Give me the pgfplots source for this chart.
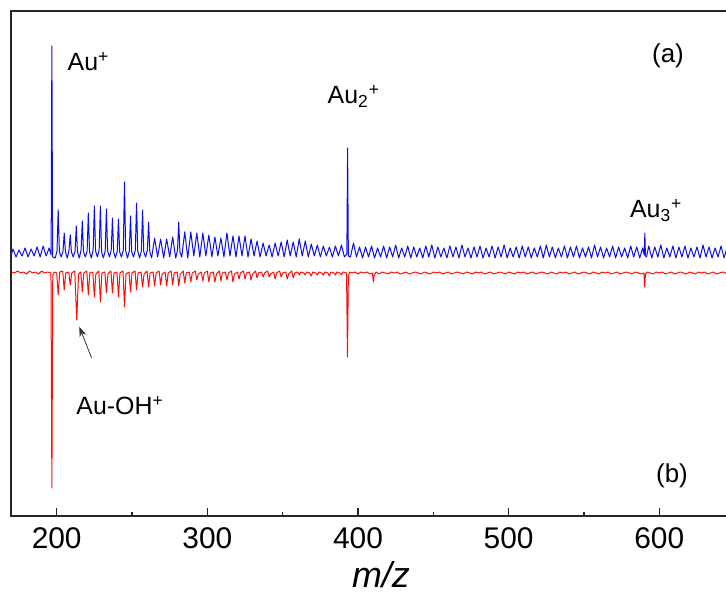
\documentclass[border=0pt]{standalone}
\usepackage{fontspec}
\setmainfont{Liberation Sans}
\usepackage{pgfplots}
\pgfplotsset{compat=1.18}
\usetikzlibrary{arrows.meta}

\definecolor{specblue}{rgb}{0.05,0.05,0.95}
\definecolor{specred}{rgb}{1,0.05,0.05}
\definecolor{axisgray}{rgb}{0.15,0.15,0.15}

\begin{document}
\begin{tikzpicture}
\useasboundingbox (0,0) rectangle (363bp,297bp);
\begin{axis}[
    at={(5.5bp,39bp)}, anchor=south west,
    scale only axis,
    width=359.5bp, height=252.5bp,
    xmin=169.67, xmax=646.93,
    ymin=0, ymax=505,
    axis line style={axisgray, line width=0.8bp},
    xtick={200,300,400,500,600},
    minor xtick={250,350,450,550},
    ytick=\empty,
    tick pos=left,
    tick align=inside,
    major tick length=4bp,
    minor tick length=2bp,
    every tick/.style={axisgray, line width=0.8bp},
    /pgf/number format/assume math mode=true,
    xticklabel style={font=\fontsize{15}{18}\selectfont, yshift=-2.5bp},
    xlabel={\fontsize{18}{21}\selectfont\itshape m/z},
    xlabel style={at={(axis description cs:0.5146,0)}, anchor=base, yshift=-35.5bp},
]
% (a) spectrum, blue
\addplot[specblue, line width=0.5bp, line join=round] coordinates {
(170,262)(171,267)(173,259)(175,266)(177,260)(179,268)(181,259)(183,267)(185,260)(187,269)(189,259)(191,270)(193,260)(195,268)(196.3,261)(196.8,470)(197.3,259)(199,258)
(200.2,265)(201,306)(201.8,264)(203,259)(204.2,265)(205,283)(205.8,264)(207,258)(208.2,266)(209,281)(209.8,264)(211,259)(212.2,265)(213,290)(213.8,264)(215,258)(216.2,266)(217,295)(217.8,264)(219,259)(220.2,265)(221,303)(221.8,264)(223,258)(224.2,266)(225,310)(225.8,265)(227,259)(228.2,266)(229,310)(229.8,264)(231,258)(232.2,265)(233,307)(233.8,265)(235,259)(236.2,266)(237,298)(237.8,264)(239,258)(240.2,265)(241,297)(241.8,264)(243,259)(244.2,266)(245,334)(245.8,265)(247,258)(248.2,265)(249,300)(249.8,264)(251,259)(252.2,266)(253,313)(253.8,265)(255,258)(256.2,265)(257,306)(257.8,264)(259,259)(260.2,266)(261,294)(261.8,264)(263,258)(265,278)(267,259)(269,277)(271,258)(273,277)(275,259)(277,279)(279,258)(280.2,266)(281,294)(281.8,264)(283,259)
(285,284)(287,258)(289,284)(291,260)(293,283)(295,259)(297,283)(299,260)(301,281)(303,259)(305,279)(307,260)(309,278)(311,259)(313,283)(315,260)(317,280)(319,259)(321,280)(323,260)(325,280)(327,259)(329,277)(331,260)(333,275)(335,259)(337,273)(339,260)(341,271)(343,259)(345,273)(347,260)(349,274)(351,259)(353,276)(355,260)(357,274)(359,259)(361,277)(363,260)(365,275)(367,259)(369,272)(371,260)(373,271)(375,259)(377,270)(379,260)(381,269)(383,259)(385,270)(387,260)(389,271)(391,259)(392.6,262)(393.1,368)(393.6,260)(395,259)(397,273)(399,259)(401,269)(403,258)
(405,269)(407,259)(409,270)(411,258)(413,268)(415,259)(417,270)(419,258)(421,269)(423,259)(425,271)(427,258)(429,268)(431,259)(433,270)(435,258)(437,269)(439,259)(441,268)(443,258)(445,270)(447,259)(449,271)(451,258)(453,269)(455,259)(457,268)(459,258)(461,270)(463,259)(465,269)(467,258)(469,271)(471,259)(473,268)(475,258)(477,269)(479,259)(481,270)(483,258)(485,268)(487,259)(489,270)(491,258)(493,269)(495,259)(497,271)(499,258)(501,268)(503,259)(505,269)(507,258)(509,270)(511,259)(513,269)(515,258)(517,268)(519,259)(521,270)(523,258)(525,271)(527,259)(529,269)(531,258)(533,268)(535,259)(537,270)(539,258)(541,269)(543,259)(545,270)(547,258)(549,268)(551,259)(553,269)(555,258)(557,271)(559,259)(561,269)(563,258)(565,268)(567,259)(569,270)(571,258)(573,269)(575,259)(577,268)(579,258)(581,270)(583,259)(585,269)(587,258)(589,268)(590,261)(590.4,283)(590.8,260)(591.5,259)(593,270)(595,258)(597,269)(599,259)(601,271)(603,258)(605,268)(607,259)(609,270)(611,258)(613,269)(615,259)(617,270)(619,258)(621,268)(623,259)(625,269)(627,258)(629,271)(631,259)(633,269)(635,258)(637,268)(639,259)(641,270)(643,258)(645,269)(647,259)
};
% (b) spectrum, red, plotted downwards
\addplot[specred, line width=0.5bp, line join=round] coordinates {
(170,244)(172,243)(174,245)(176,243)(178,244)(180,242)(182,245)(184,243)(186,244)(188,242)(190,245)(192,243)(194,244)(196.2,243)(196.8,28)(197.4,241)(198.5,244)
(200,243)(201,221)(202,244)(204,245)(205,226)(206,243)(208,244)(209,231)(210,243)(212,245)(213.3,196)(214.5,242)(216,244)(217,224)(218,243)(220,245)(221,221)(222,243)(224,244)(225,219)(226,242)(228,245)(229,214)(230,243)(232,244)(233,223)(234,242)(236,245)(237,223)(238,243)(240,244)(241,219)(242,243)(244,245)(245,209)(246,242)(248,244)(249,224)(250,243)(252,245)(253,226)(254,243)(256,244)(257,229)(258,242)(260,245)(261,229)(262,243)(264,244)(265,230)(266,243)(268,245)(269,231)(270,242)(272,244)(273,230)(274,243)(276,245)(277,231)(278,243)(280,244)(281,230)(282,242)
(284,245)(285,233)(286,243)(288,244)(289,234)(290,243)(292,245)(293,236)(294,242)(296,244)(297,235)(298,243)(300,245)(301,234)(302,243)(304,244)(305,234)(306,242)(308,245)(309,235)(310,243)(312,244)(313,236)(314,243)(316,245)(317,234)(318,242)(320,244)(321,237)(322,243)(324,245)(325,237)(326,243)(328,244)(329,236)(330,242)(332,245)(333,238)(334,243)(336,244)(337,239)(338,243)(340,245)(341,239)(342,242)(344,244)(345,237)(346,243)(348,245)(349,239)(350,243)(352,244)(353,237)(354,242)(356,245)(357,238)(358,243)
(360,244)(361,241)(362,244)(364,243)(365,241)(366,244)(368,243)(369,240)(370,244)(372,243)(373,241)(374,244)(376,243)(377,241)(378,244)(380,243)(381,240)(382,244)(384,243)(385,241)(386,244)(388,243)(389,241)(390,244)(392.4,243)(393,159)(393.6,240)(394.5,244)(396,243)(398,244)(400,242)(402,244)(404,243)(406,244)(408,242)(409.6,243)(410.2,234)(410.8,241)(412,244)(414,242)(416,244)(418,243)(420,242)(422,244)(424,243)
(426,244)(428,242)(430,243)(432,244)(434,242)(436,243)(438,244)(440,243)(442,242)(444,244)(446,243)(448,242)(450,244)(452,243)(454,244)(456,242)(458,243)(460,244)(462,242)(464,243)(466,244)(468,243)(470,242)(472,244)(474,243)(476,242)(478,244)(480,243)(482,244)(484,242)(486,243)(488,244)(490,242)(492,243)(494,244)(496,243)(498,242)(500,244)(502,243)(504,242)(506,244)(508,243)(510,244)(512,242)(514,243)(516,244)(518,242)(520,243)(522,244)(524,243)(526,242)(528,244)(530,243)(532,242)(534,244)(536,243)(538,244)(540,242)(542,243)(544,244)(546,242)(548,243)(550,244)(552,243)(554,242)(556,244)(558,243)(560,242)(562,244)(564,243)(566,244)(568,242)(570,243)(572,244)(574,242)(576,243)(578,244)(580,243)(582,242)(584,244)(586,243)(588,242)(589.8,243)(590.3,229)(590.8,242)(592,244)(594,243)(596,242)(598,244)(600,243)(602,244)(604,242)(606,243)(608,244)(610,242)(612,243)(614,244)(616,243)(618,242)(620,244)(622,243)(624,242)(626,244)(628,243)(630,244)(632,242)(634,243)(636,244)(638,242)(640,243)(642,244)(644,243)(646,242)(648,243)
};
% peak labels
\node[anchor=base west, font=\fontsize{12.5}{14}\selectfont] at (axis cs:202.6,445) {Au\textsuperscript{+}};
\node[anchor=base west, font=\fontsize{12.5}{14}\selectfont] at (axis cs:375.2,412) {Au\textsubscript{2}\textsuperscript{+}};
\node[anchor=base west, font=\fontsize{12.5}{14}\selectfont] at (axis cs:575.9,298) {Au\textsubscript{3}\textsuperscript{+}};
\node[anchor=base west, font=\fontsize{12.5}{14}\selectfont] at (axis cs:208.4,101) {Au-OH\textsuperscript{+}};
\node[font=\fontsize{13}{15}\selectfont] at (axis cs:605.8,460) {(a)};
\node[font=\fontsize{13}{15}\selectfont] at (axis cs:608.4,40) {(b)};
\draw[-{Stealth[length=5bp,width=3.5bp]}, line width=0.4bp, black!80] (axis cs:223.2,158) -- (axis cs:215,189.3);
\end{axis}
\end{tikzpicture}
\end{document}
